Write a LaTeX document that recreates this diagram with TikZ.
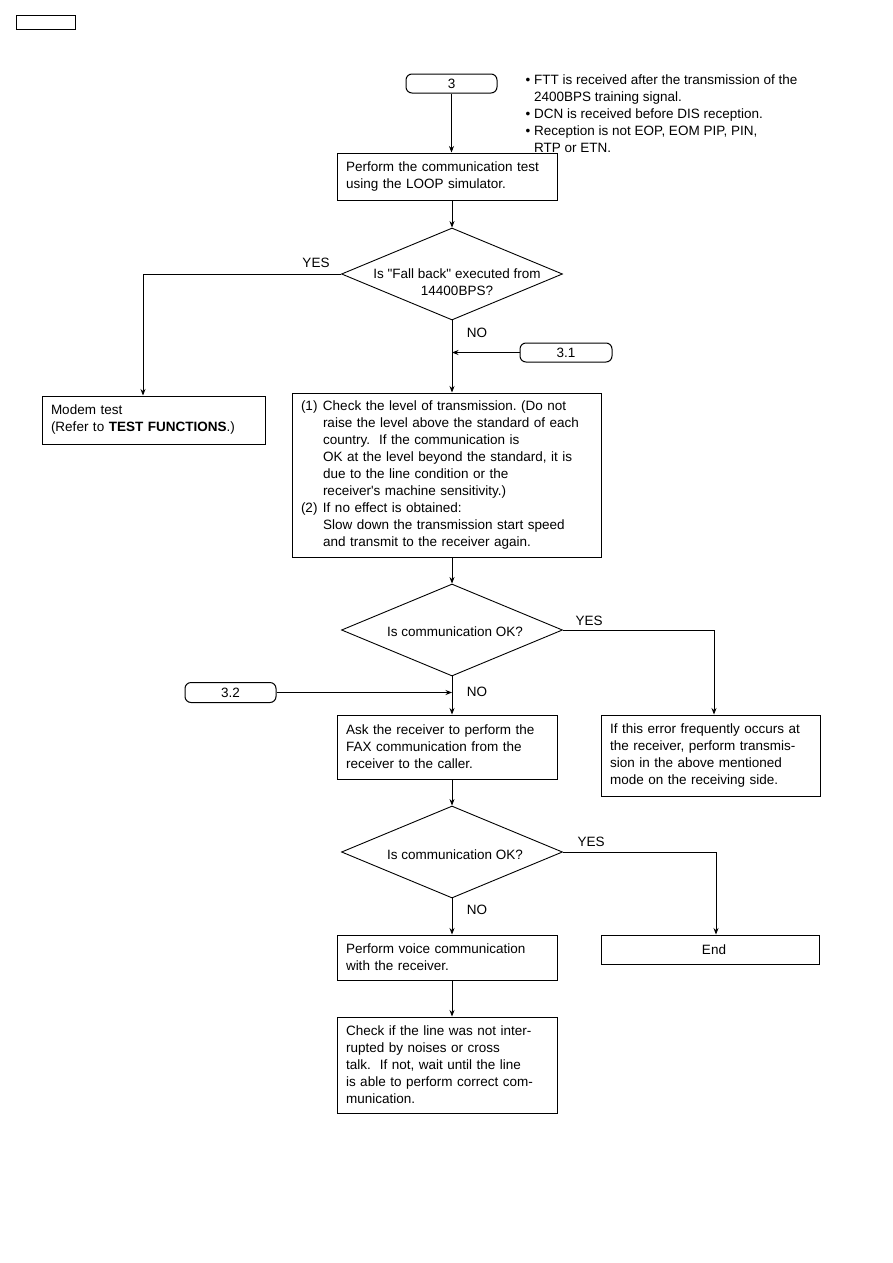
\documentclass[tikz,border=0pt]{standalone}
\usepackage{fontspec}
\setmainfont{Liberation Sans}[Ligatures=TeXOff]
\usetikzlibrary{shapes.geometric,arrows.meta}
\frenchspacing
\begin{document}
\begin{tikzpicture}[x=1pt,y=-1pt,
  every node/.style={font=\fontsize{13.5}{17}\selectfont},
  box/.style={draw, line width=1pt, inner ysep=0pt, inner xsep=9pt, align=left},
  conn/.style={draw, line width=1pt, rounded corners=6pt, inner sep=0pt, minimum width=91pt, minimum height=19pt},
  dia/.style={draw, diamond, line width=0.9pt, inner sep=0pt, minimum width=221pt, minimum height=92pt},
  lbl/.style={inner sep=0pt},
  arr/.style={-{Stealth[length=6.5pt,width=5pt]}, line width=0.8pt}
]
\useasboundingbox (0,0) rectangle (893,1263);

\node[draw, line width=1pt, minimum width=59pt, minimum height=14pt, inner sep=0pt] (topbox) at (45.5,23) {};

\node[conn] (c3) at (451.5,83.5) {3};
\node[lbl, anchor=west, align=left] (notes) at (525.5,113.5)
  {• FTT is received after the transmission of the\\
   \phantom{• }2400BPS training signal.\\
   • DCN is received before DIS reception.\\
   • Reception is not EOP, EOM PIP, PIN,\\
   \phantom{• }RTP or ETN.};

\node[box, text width=202pt, minimum height=47pt] (perf) at (447,176.5)
  {Perform the communication test\\using the LOOP simulator.};

\node[dia] (d1) at (452,274) {};
\node[lbl, align=center] (t1) at (457,282) {Is "Fall back" executed from\\14400BPS?};
\node[lbl] (yes1) at (316,263) {YES};

\node[box, text width=205pt, minimum height=48pt] (modem) at (153.5,420)
  {Modem test\\(Refer to \textbf{TEST FUNCTIONS}.)};

\node[lbl] (no1) at (477,333) {NO};
\node[conn, minimum width=92pt] (c31) at (566,352.5) {3.1};

\node[box, text width=291pt, minimum height=164pt] (big) at (446.5,475)
  {\makebox[22pt][l]{(1)}Check the level of transmission. (Do not\\
   \hspace*{22pt}raise the level above the standard of each\\
   \hspace*{22pt}country.\ \ If the communication is\\
   \hspace*{22pt}OK at the level beyond the standard, it is\\
   \hspace*{22pt}due to the line condition or the\\
   \hspace*{22pt}receiver's machine sensitivity.)\\
   \makebox[22pt][l]{(2)}If no effect is obtained:\\
   \hspace*{22pt}Slow down the transmission start speed\\
   \hspace*{22pt}and transmit to the receiver again.};

\node[dia] (d2) at (452,630) {};
\node[lbl] (t2) at (455,632) {Is communication OK?};
\node[lbl] (yes2) at (589,621) {YES};

\node[box, text width=201pt, minimum height=81pt] (errbox) at (710.5,755.5)
  {If this error frequently occurs at\\the receiver, perform transmis-\\sion in the above mentioned\\mode on the receiving side.};

\node[lbl] (no2) at (477,692) {NO};
\node[conn, minimum height=20pt] (c32) at (230.5,692.5) {3.2};

\node[box, text width=202pt, minimum height=64pt] (ask) at (447,747)
  {Ask the receiver to perform the\\FAX communication from the\\receiver to the caller.};

\node[dia] (d3) at (452,852) {};
\node[lbl] (t3) at (455,855) {Is communication OK?};
\node[lbl] (yes3) at (591,842) {YES};
\node[lbl] (no3) at (477,910) {NO};

\node[box, text width=202pt, minimum height=45pt] (voice) at (447,957.5)
  {Perform voice communication\\with the receiver.};

\node[draw, line width=1pt, minimum width=218pt, minimum height=29pt, inner sep=0pt] (endb) at (710,949.5) {\hspace*{8pt}End};

\node[box, text width=202pt, minimum height=96pt] (last) at (447,1065)
  {Check if the line was not inter-\\rupted by noises or cross\\talk.\ \ If not, wait until the line\\is able to perform correct com-\\munication.};

% connectors
\draw[arr] (c3.south) -- (c3.south |- perf.north);
\draw[arr] (d1.north |- perf.south) -- (d1.north);
\draw[arr] (d1.west) -| ([xshift=-10.5pt]modem.north);
\draw[arr] (d1.south) -- (d1.south |- big.north);
\draw[arr] (c31.west) -- (c31.west -| d1.south);
\draw[arr] (d2.north |- big.south) -- (d2.north);
\draw[arr] (d2.east) -| ([xshift=3.5pt]errbox.north);
\draw[arr] (d2.south) -- (d2.south |- ask.north);
\draw[arr] (c32.east) -- (c32.east -| d2.south);
\draw[arr] (d3.north |- ask.south) -- (d3.north);
\draw[arr] (d3.east) -| ([xshift=6pt]endb.north);
\draw[arr] (d3.south) -- (d3.south |- voice.north);
\draw[arr] (d3.south |- voice.south) -- (d3.south |- last.north);
\end{tikzpicture}
\end{document}
